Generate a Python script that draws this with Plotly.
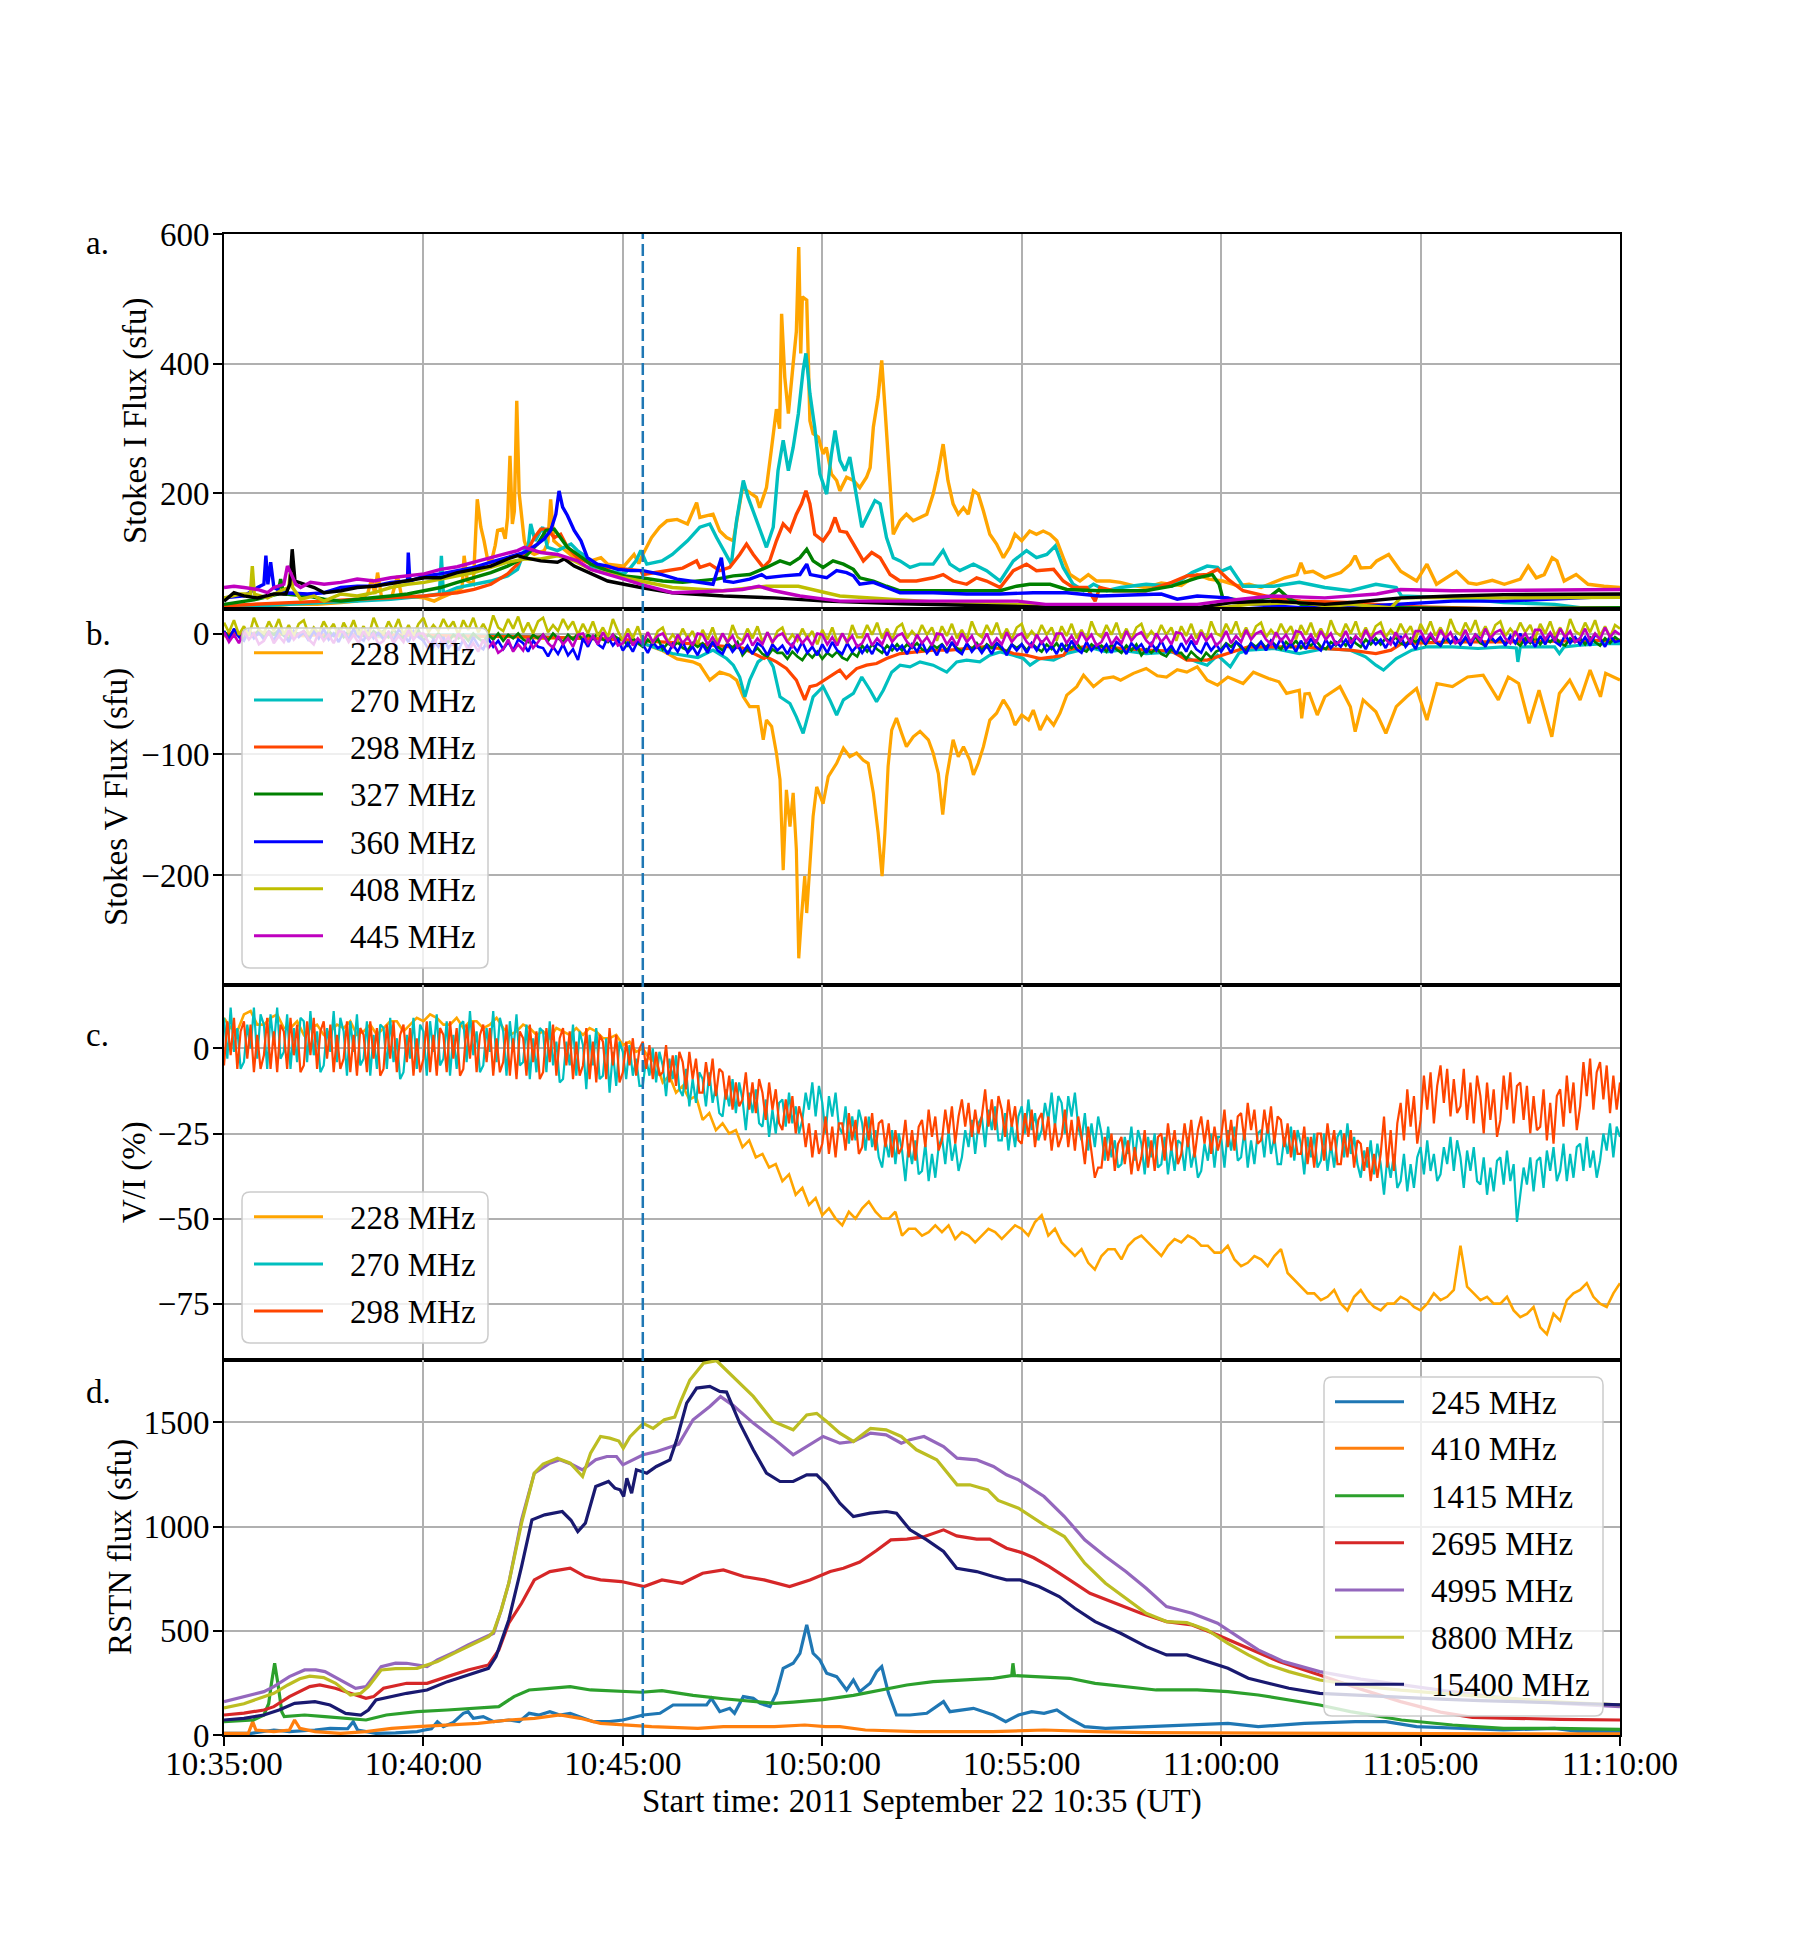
import numpy as np
import pandas as pd
import plotly.graph_objects as go
from plotly.subplots import make_subplots

START = pd.Timestamp("2011-09-22 10:35:00")
MARK = pd.Timestamp("2011-09-22 10:45:30")
END = pd.Timestamp("2011-09-22 11:10:00")

X_TICK_LABELS = ["10:35:00", "10:40:00", "10:45:00", "10:50:00", "10:55:00", "11:00:00", "11:05:00", "11:10:00"]
A_TICKS = [200, 400, 600]
B_TICKS = [-200, -100, 0]
C_TICKS = [-75, -50, -25, 0]
D_TICKS = [0, 500, 1000, 1500]

# ---------------- panel a : Stokes I flux (minute, sfu) ----------------
A228 = [(0,22),(0.4,27),(0.84,29),(1.25,27),(1.67,29),(2.34,29),(2.93,32),(3.34,34),(3.6,45),(3.7,68),(3.78,45),(3.85,78),(3.95,40),(4.2,39),(4.35,73),(4.45,42),(5.02,39),(5.27,34),(5.43,39),(5.85,50),(5.97,55),(6.02,104),(6.1,65),(6.25,60),(6.35,191),(6.44,148),(6.52,127),(6.6,101),(6.69,91),(6.8,120),(6.86,143),(6.98,145),(7.05,130),(7.11,163),(7.17,258),(7.23,153),(7.28,173),(7.34,343),(7.4,200),(7.44,179),(7.53,127),(7.61,112),(7.78,106),(8.03,112),(8.12,125),(8.19,191),(8.27,127),(8.36,122),(8.78,101),(9.2,96),(9.45,101),(9.62,91),(10.03,88),(10.28,106),(10.4,92),(10.5,106),(10.72,132),(10.92,148),(11.11,158),(11.36,160),(11.62,153),(11.85,186),(11.93,163),(12.26,168),(12.43,142),(12.6,132),(12.77,127),(13.0,209),(13.2,200),(13.35,194),(13.43,178),(13.6,209),(13.72,266),(13.85,330),(13.93,300),(13.98,477),(14.06,379),(14.15,323),(14.27,400),(14.35,450),(14.41,580),(14.46,416),(14.5,503),(14.61,498),(14.69,312),(14.77,292),(14.9,287),(15.02,261),(15.1,271),(15.23,230),(15.36,220),(15.44,204),(15.61,225),(15.78,220),(15.94,209),(16.11,225),(16.2,240),(16.28,302),(16.4,349),(16.49,405),(16.57,333),(16.65,251),(16.78,137),(16.95,158),(17.11,168),(17.28,158),(17.45,163),(17.62,168),(17.78,199),(17.91,235),(18.03,276),(18.15,220),(18.28,184),(18.41,168),(18.54,178),(18.66,168),(18.79,204),(18.91,199),(19.04,173),(19.2,137),(19.37,122),(19.54,101),(19.7,117),(19.83,137),(20.0,127),(20.2,142),(20.37,137),(20.54,142),(20.71,137),(20.88,127),(21.04,101),(21.21,75),(21.46,65),(21.67,75),(21.88,65),(22.21,65),(22.47,63),(22.8,58),(23.1,55),(23.5,62),(24.0,58),(24.4,75),(24.7,68),(25.04,65),(25.4,58),(25.7,60),(26.0,55),(26.3,62),(26.6,70),(26.9,75),(27.0,93),(27.1,78),(27.3,80),(27.6,70),(28.0,78),(28.24,91),(28.36,104),(28.5,85),(28.75,86),(28.9,96),(29.2,106),(29.5,80),(29.9,65),(30.16,91),(30.4,60),(30.9,80),(31.2,62),(31.4,60),(31.8,66),(32.1,60),(32.5,68),(32.7,88),(32.9,70),(33.1,75),(33.3,101),(33.42,96),(33.6,65),(33.9,75),(34.2,60),(34.6,57),(35,55)]
A270 = [(0,24),(0.84,27),(1.67,29),(2.51,32),(3.34,34),(4.18,37),(5.02,42),(5.4,45),(5.45,104),(5.5,46),(5.85,55),(6.27,60),(6.69,65),(7.11,73),(7.36,83),(7.53,112),(7.63,120),(7.69,153),(7.8,127),(7.99,148),(8.11,117),(8.36,112),(8.7,122),(8.86,112),(9.0,106),(9.2,88),(9.62,81),(10.03,76),(10.2,86),(10.33,96),(10.45,112),(10.6,91),(10.98,96),(11.24,106),(11.62,127),(11.93,148),(12.18,153),(12.35,132),(12.6,106),(12.72,91),(12.85,158),(13.02,220),(13.14,194),(13.27,173),(13.43,148),(13.6,117),(13.77,148),(13.89,235),(14.02,282),(14.15,235),(14.27,271),(14.4,323),(14.52,390),(14.59,416),(14.69,354),(14.81,302),(14.94,230),(15.11,199),(15.23,261),(15.32,297),(15.44,251),(15.57,235),(15.69,256),(15.82,209),(15.99,148),(16.15,168),(16.32,189),(16.45,184),(16.61,132),(16.78,101),(16.95,96),(17.2,86),(17.45,91),(17.78,91),(18.03,112),(18.2,91),(18.45,81),(18.79,91),(19.12,81),(19.46,65),(19.79,96),(20.12,112),(20.37,101),(20.63,106),(20.84,119),(21.04,86),(21.29,60),(21.55,50),(21.8,60),(22.13,50),(22.48,55),(23.12,60),(23.76,57),(24.27,78),(24.65,88),(24.91,86),(25.0,80),(25.23,86),(25.55,57),(26.32,57),(26.96,63),(27.6,55),(28.24,50),(28.88,60),(29.39,55),(29.52,42),(30.8,39),(32.08,32),(33.36,29),(34.0,24),(35,24)]
A298 = [(0,27),(0.84,29),(1.67,32),(2.51,34),(3.34,37),(4.18,39),(5.02,42),(5.85,47),(6.27,52),(6.69,60),(7.11,76),(7.36,91),(7.61,112),(7.78,132),(7.94,145),(8.11,145),(8.28,132),(8.44,137),(8.61,117),(8.86,101),(9.2,91),(9.62,86),(10.03,83),(10.45,81),(10.5,75),(11.0,80),(11.5,85),(11.85,96),(11.93,86),(12.18,91),(12.43,81),(12.68,86),(12.93,106),(13.1,122),(13.27,106),(13.52,86),(13.68,96),(13.85,127),(14.02,153),(14.19,142),(14.35,168),(14.48,184),(14.59,204),(14.69,184),(14.81,137),(15.02,127),(15.19,142),(15.32,163),(15.44,142),(15.61,140),(15.78,122),(16.03,96),(16.24,109),(16.45,101),(16.7,75),(16.95,65),(17.36,65),(17.78,70),(18.03,75),(18.28,65),(18.62,60),(18.87,70),(19.12,65),(19.46,55),(19.79,81),(20.12,91),(20.37,81),(20.8,83),(21.04,65),(21.29,55),(21.63,55),(21.84,34),(21.96,55),(22.3,50),(23.12,50),(23.76,63),(24.14,73),(24.65,75),(24.91,83),(25.17,68),(25.55,50),(26.32,39),(27.0,34),(28.24,32),(29.52,26),(30.8,24),(32.08,22),(35,24)]
A327 = [(0,29),(0.5,34),(0.84,37),(1.35,45),(1.42,68),(1.5,45),(2.09,42),(2.51,37),(2.93,34),(3.34,37),(3.76,39),(4.18,42),(4.6,45),(5.02,50),(5.43,55),(5.85,63),(6.27,70),(6.69,78),(7.11,88),(7.53,101),(7.86,122),(8.07,143),(8.28,145),(8.44,132),(8.61,117),(8.86,106),(9.2,91),(9.62,81),(10.03,73),(10.45,70),(11.0,65),(11.5,63),(11.93,65),(12.35,68),(12.77,73),(13.18,75),(13.6,86),(13.94,96),(14.19,91),(14.44,101),(14.61,114),(14.77,96),(15.02,86),(15.27,96),(15.53,91),(15.78,83),(15.94,70),(16.28,65),(16.61,57),(16.95,50),(19.46,50),(19.87,57),(20.2,60),(20.71,60),(21.13,52),(21.96,50),(23.1,50),(23.76,57),(24.4,70),(24.78,75),(24.95,60),(25.04,39),(25.68,34),(26.2,40),(26.45,52),(26.7,38),(27.0,29),(28.24,26),(29.52,24),(32.08,22),(35,24)]
A360 = [(0,39),(0.5,42),(0.84,55),(1.0,60),(1.05,104),(1.1,60),(1.17,94),(1.25,55),(1.5,47),(2.09,45),(2.51,47),(2.93,55),(3.34,57),(3.76,57),(4.18,63),(4.6,65),(4.62,109),(4.66,65),(5.02,73),(5.43,76),(5.85,81),(6.27,86),(6.69,94),(7.11,101),(7.53,109),(7.86,122),(8.03,130),(8.19,143),(8.32,168),(8.4,204),(8.49,179),(8.61,166),(8.78,143),(8.95,127),(9.11,101),(9.36,91),(9.62,88),(9.87,83),(10.2,81),(10.5,81),(10.98,75),(11.36,68),(11.88,63),(12.26,60),(12.47,101),(12.55,65),(12.77,63),(13.18,68),(13.48,75),(13.6,70),(14.02,73),(14.44,75),(14.61,91),(14.7,75),(15.11,70),(15.36,81),(15.61,78),(15.78,73),(15.94,60),(16.28,63),(16.61,55),(16.95,47),(17.78,47),(18.62,45),(19.46,45),(20.29,47),(21.13,47),(21.96,42),(23.5,45),(23.9,37),(24.4,42),(25.17,39),(25.68,29),(27.0,24),(28.24,25),(29.52,29),(30.8,34),(32.1,34),(33.36,38),(35,42)]
A408 = [(0,39),(0.42,45),(0.66,45),(0.71,88),(0.76,45),(1.09,39),(1.42,50),(1.62,55),(1.67,80),(1.72,55),(1.92,37),(2.26,42),(2.51,34),(2.93,45),(3.34,42),(3.76,47),(4.18,55),(4.6,60),(5.02,63),(5.43,68),(5.85,73),(6.27,78),(6.69,86),(7.11,94),(7.53,99),(7.94,99),(8.36,104),(8.78,96),(9.2,83),(9.62,76),(10.03,70),(10.45,65),(11.24,55),(12.5,50),(13.6,57),(14.4,57),(15.08,47),(15.44,42),(16.7,37),(18.0,32),(19.9,29),(21.8,24),(25.0,24),(25.7,29),(27.0,32),(27.7,26),(28.24,29),(29.26,24),(29.5,39),(30.8,40),(32.1,39),(35,40)]
A432 = [(0,34),(0.25,47),(0.5,42),(0.84,39),(1.25,45),(1.55,45),(1.65,60),(1.71,114),(1.78,65),(2.0,60),(2.26,55),(2.51,47),(2.93,50),(3.34,55),(3.76,57),(4.18,61),(4.6,65),(5.02,70),(5.43,70),(5.85,78),(6.27,83),(6.69,88),(7.11,99),(7.36,104),(7.53,101),(7.94,96),(8.36,94),(8.53,99),(8.78,88),(9.2,76),(9.62,65),(10.03,60),(10.45,55),(11.24,47),(12.52,42),(13.8,39),(15.08,34),(17.0,30),(20.0,26),(21.2,24),(24.4,24),(25.3,32),(26.3,34),(27.6,29),(28.24,32),(29.52,39),(30.8,42),(32.08,44),(35,45)]
A445 = [(0,55),(0.25,57),(0.5,55),(0.84,52),(1.09,47),(1.25,55),(1.5,60),(1.59,88),(1.67,78),(1.8,60),(1.92,55),(2.17,63),(2.51,60),(2.93,63),(3.34,68),(3.76,65),(4.18,70),(4.6,73),(5.02,76),(5.43,83),(5.85,87),(6.27,94),(6.69,101),(7.11,109),(7.36,112),(7.53,117),(7.94,109),(8.36,106),(8.61,101),(8.86,96),(9.2,83),(9.62,76),(10.03,68),(10.45,60),(11.24,47),(12.52,50),(13.0,52),(13.41,57),(13.8,50),(14.44,42),(15.08,37),(15.44,34),(19.9,34),(20.6,29),(24.4,29),(25.0,34),(26.3,42),(27.6,39),(28.9,45),(29.5,52),(30.8,50),(32.1,51),(35,52)]

# ---------------- panel b : Stokes V flux ----------------
B228 = [(0,-2),(1,1),(2,-2),(3,0),(4,-3),(5,-1),(6,-3),(7,-2),(8,-4),(9,-3),(10,-5),(10.5,-8),(10.98,-14),(11.36,-21),(11.75,-23.5),(11.93,-26),(12.18,-38.6),(12.43,-32),(12.68,-34.5),(12.85,-38.6),(13.02,-52.4),(13.18,-60.6),(13.39,-60.6),(13.52,-88),(13.6,-71.7),(13.73,-77),(13.85,-99),(13.94,-121),(14.02,-196),(14.1,-129.5),(14.19,-160),(14.27,-132),(14.35,-179),(14.41,-269),(14.48,-234),(14.56,-201),(14.61,-231.5),(14.69,-193),(14.77,-151.5),(14.86,-127),(15.02,-141),(15.15,-118.5),(15.36,-107.5),(15.53,-95),(15.69,-102),(15.86,-99),(16.03,-105),(16.15,-107.5),(16.28,-132),(16.4,-165),(16.5,-201),(16.57,-165),(16.65,-110),(16.74,-80),(16.86,-70),(16.99,-82.7),(17.11,-93.7),(17.28,-85.5),(17.45,-81),(17.66,-88),(17.78,-99),(17.91,-116),(18.02,-150),(18.12,-118.5),(18.28,-88),(18.41,-102),(18.54,-93.7),(18.7,-105),(18.79,-117),(18.91,-107.5),(19.04,-93.7),(19.2,-71.7),(19.37,-66),(19.54,-55),(19.7,-63.4),(19.83,-75.8),(20.0,-67.5),(20.17,-71.7),(20.29,-63.4),(20.46,-80),(20.63,-69),(20.8,-75.8),(20.96,-66),(21.13,-51),(21.38,-44),(21.55,-34.5),(21.8,-44),(22.05,-37.2),(22.3,-36),(22.48,-38.6),(22.8,-33),(23.12,-29),(23.4,-35),(23.63,-36),(23.9,-30),(24.14,-32),(24.4,-27.6),(24.65,-38.6),(24.91,-42.7),(25.17,-36),(25.55,-41.4),(25.81,-32),(26.19,-37.2),(26.45,-40),(26.64,-49.6),(26.96,-47),(27.02,-70.3),(27.1,-50),(27.21,-49.6),(27.41,-67.5),(27.6,-52.4),(27.98,-44),(28.24,-60.6),(28.36,-81.3),(28.56,-55),(28.88,-64.8),(29.13,-82.7),(29.39,-60.6),(29.65,-52.4),(29.9,-45.5),(30.16,-71.7),(30.41,-41.4),(30.8,-44),(31.18,-36),(31.57,-34.5),(31.95,-55),(32.2,-36),(32.46,-41.4),(32.72,-74.4),(32.97,-47),(33.29,-85.5),(33.48,-49.6),(33.74,-38.6),(34.0,-55),(34.25,-30.3),(34.51,-52.4),(34.64,-33),(35,-38.6)]
B270 = [(0,-1),(2,0),(4,-2),(6,-1),(8,-3),(10,-5),(10.5,-8),(11.24,-16.6),(11.88,-20),(12.26,-13.8),(12.6,-20.7),(12.77,-26.2),(12.93,-36),(13.06,-52.4),(13.18,-38.6),(13.39,-23.5),(13.6,-18),(13.77,-27.6),(13.94,-52.4),(14.19,-58),(14.35,-69),(14.52,-82.7),(14.61,-71.7),(14.77,-52.4),(15.02,-44),(15.19,-55),(15.36,-67.5),(15.53,-55),(15.78,-49.6),(15.99,-36),(16.2,-47),(16.36,-56.5),(16.53,-47),(16.74,-32),(16.95,-26.2),(17.2,-27.6),(17.45,-23.5),(17.78,-26.2),(18.12,-32),(18.37,-23.5),(18.62,-22),(18.95,-23.5),(19.2,-18),(19.46,-15.2),(19.79,-18),(20.04,-20.7),(20.21,-26.2),(20.46,-20.7),(20.8,-22),(21.13,-16.6),(21.46,-13.8),(21.8,-12.4),(22.13,-15.2),(22.47,-13.8),(23.12,-16.6),(23.76,-15.2),(24.4,-23.5),(24.65,-26.2),(24.91,-18),(25.23,-27.6),(25.45,-16),(25.68,-13.8),(26.32,-12.4),(26.96,-16.6),(27.6,-12.4),(28.24,-13.8),(28.62,-19.3),(28.88,-26.2),(29.07,-30.3),(29.39,-20.7),(29.78,-13.8),(30.16,-11),(30.8,-11),(31.44,-12.4),(32.08,-11),(32.4,-12),(32.44,-23.5),(32.5,-11),(33.36,-11),(33.48,-16.6),(33.6,-11),(34.0,-9.7),(34.64,-8.3),(35,-8.3)]
B298 = [(0,0),(2,-1),(4,-1),(6,-2),(8,-3),(10,-5),(11,-7),(12,-9),(13,-12),(13.54,-20.7),(13.6,-19.3),(13.85,-23.5),(14.1,-29),(14.35,-38.6),(14.56,-55),(14.69,-44),(14.86,-42.7),(15.1,-37.2),(15.36,-32),(15.44,-30.3),(15.6,-37),(15.86,-29),(16.11,-26.2),(16.36,-24.8),(16.61,-20.7),(16.95,-16.6),(17.36,-15.2),(17.78,-13.8),(18.2,-13.8),(18.62,-12.4),(19.04,-11),(19.46,-12.4),(19.79,-16.6),(20.12,-18),(20.46,-20.7),(20.8,-19.3),(21.05,-18),(21.13,-13.8),(21.55,-11),(21.96,-11),(22.47,-12.4),(23.12,-13.8),(23.76,-14.5),(24.14,-22),(24.65,-22),(25.17,-16.6),(25.68,-11),(26.96,-11),(27.73,-12.4),(28.24,-13.8),(28.88,-16.6),(29.26,-13.8),(29.52,-8.3),(30.8,-7),(32.08,-7),(35,-5.5)]
# 7.5-second samples, 8 per minute
B327 = [2,-3,3,-1,-4,2,-2,3, -3,2,-1,3,-2,-4,2,-1, 2,-3,3,-1,-4,2,-2,3, -3,2,-1,3,-2,-4,2,-1, 2,-3,3,-1,-4,2,-2,3,
        -6,-1,-4,0,-5,-7,-1,-4, -1,-6,0,-4,-7,-1,-5,0, -6,-1,-4,0,-5,-7,-1,-4, -1,-6,0,-4,-7,-1,-5,0, -6,-1,-4,0,-5,-7,-1,-4,
        -5,-10,-4,-8,-11,-5,-9,-4, -13,-8,-11,-7,-12,-14,-8,-11, -8,-13,-7,-11,-14,-8,-12,-7, -18,-13,-16,-12,-17,-19,-13,-16, -16,-21,-15,-19,-22,-16,-20,-15,
        -21,-16,-19,-15,-20,-22,-16,-19, -10,-15,-9,-13,-16,-10,-14,-9, -14,-9,-12,-8,-13,-15,-9,-12, -9,-14,-8,-12,-15,-9,-13,-8, -14,-9,-12,-8,-13,-15,-9,-12,
        -9,-14,-8,-12,-15,-9,-13,-8, -14,-9,-12,-8,-13,-15,-9,-12, -10,-15,-9,-13,-16,-10,-14,-9, -18,-13,-16,-12,-17,-19,-13,-16, -16,-21,-15,-19,-22,-16,-20,-15,
        -13,-8,-11,-7,-12,-14,-8,-11, -7,-12,-6,-10,-13,-7,-11,-6, -12,-7,-10,-6,-11,-13,-7,-10, -5,-10,-4,-8,-11,-5,-9,-4, -9,-4,-7,-3,-8,-10,-4,-7,
        -4,-9,-3,-7,-10,-4,-8,-3, -9,-4,-7,-3,-8,-10,-4,-7, -4,-9,-3,-7,-10,-4,-8,-3, -9,-4,-7,-3,-8,-10,-4,-7, -4,-9,-3,-7,-10,-4,-8,-3,
        -6]
B360 = [2,-5,4,-3,-6,3,-4,1, -5,1,-6,3,0,-7,2,-3, 1,-6,2,-4,4,-5,0,-7, 2,-5,4,-3,-6,3,-4,1, -5,1,-6,3,0,-7,2,-3,
        -6,-13,-5,-11,-3,-12,-7,-14, -5,-12,-3,-10,-13,-4,-11,-6, -13,-7,-14,-5,-8,-15,-6,-11, -12,-19,-11,-17,-9,-18,-13,-22, -4,-11,-2,-9,-12,-3,-10,-5,
        -14,-8,-15,-6,-9,-16,-7,-12, -10,-17,-9,-15,-7,-16,-11,-18, -9,-16,-7,-14,-17,-8,-15,-10, -16,-10,-17,-8,-11,-18,-9,-14, -10,-17,-9,-15,-7,-16,-11,-18,
        -9,-16,-7,-14,-17,-8,-15,-10, -16,-10,-17,-8,-11,-18,-9,-14, -10,-17,-9,-15,-7,-16,-11,-18, -9,-16,-7,-14,-17,-8,-15,-10, -16,-10,-17,-8,-11,-18,-9,-14,
        -9,-16,-8,-14,-6,-15,-10,-17, -8,-15,-6,-13,-16,-7,-14,-9, -15,-9,-16,-7,-10,-17,-8,-13, -9,-16,-8,-14,-6,-15,-10,-17, -8,-15,-6,-13,-16,-7,-14,-9,
        -15,-9,-16,-7,-10,-17,-8,-13, -7,-14,-6,-12,-4,-13,-8,-15, -6,-13,-4,-11,-14,-5,-12,-7, -11,-5,-12,-3,-6,-13,-4,-9, -5,-12,-4,-10,-2,-11,-6,-13,
        -2,-9,0,-7,-10,-1,-8,-3, -9,-3,-10,-1,-4,-11,-2,-7, -3,-10,-2,-8,0,-9,-4,-11, -2,-9,0,-7,-10,-1,-8,-3, -9,-3,-10,-1,-4,-11,-2,-7,
        -6]
B408 = [9,1,11,-1,6,-2,13,3, 0,10,2,12,-1,7,-2,8, 11,-1,5,0,10,2,8,-3, 9,1,11,-1,6,-2,13,3, 0,10,2,12,-1,7,-2,8,
        13,1,7,2,12,4,10,-1, 11,3,13,1,8,0,15,5, 2,12,4,14,1,9,0,10, 13,1,7,2,12,4,10,-1, 8,0,10,-2,5,-3,12,2,
        -6,4,-4,6,-7,1,-8,2, 5,-7,-1,-6,4,-4,2,-9, 3,-5,5,-7,0,-8,7,-3, -6,4,-4,6,-7,1,-8,2, 5,-7,-1,-6,4,-4,2,-9,
        3,-5,5,-7,0,-8,7,-3, -3,7,-1,9,-4,4,-5,5, 8,-4,2,-3,7,-1,5,-6, 6,-2,8,-4,3,-5,10,0, -3,7,-1,9,-4,4,-5,5,
        8,-4,2,-3,7,-1,5,-6, 6,-2,8,-4,3,-5,10,0, -3,7,-1,9,-4,4,-5,5, 8,-4,2,-3,7,-1,5,-6, 6,-2,8,-4,3,-5,10,0,
        -2,8,0,10,-3,5,-4,6, 9,-3,3,-2,8,0,6,-5, 7,-1,9,-3,4,-4,11,1, -2,8,0,10,-3,5,-4,6, 9,-3,3,-2,8,0,6,-5,
        8,0,10,-2,5,-3,12,2, -1,9,1,11,-2,6,-3,7, 10,-2,4,-1,9,1,7,-4, 8,0,10,-2,5,-3,12,2, -1,9,1,11,-2,6,-3,7,
        4]
B445 = [1,-7,-1,-8,2,-5,0,-9, -6,2,-8,-2,-7,3,-5,0, 2,-5,-9,1,-6,-1,-8,2, 1,-7,-1,-8,2,-5,0,-9, -6,2,-8,-2,-7,3,-5,0,
        0,-7,-11,-1,-8,-3,-10,0, -6,-14,-8,-15,-5,-12,-7,-16, -13,-5,-15,-9,-14,-4,-12,-7, -1,-8,-12,-2,-9,-4,-11,-1, 0,-8,-2,-9,1,-6,-1,-10,
        -8,0,-10,-4,-9,1,-7,-2, 0,-7,-11,-1,-8,-3,-10,0, -1,-9,-3,-10,0,-7,-2,-11, -8,0,-10,-4,-9,1,-7,-2, 0,-7,-11,-1,-8,-3,-10,0,
        -1,-9,-3,-10,0,-7,-2,-11, -8,0,-10,-4,-9,1,-7,-2, 0,-7,-11,-1,-8,-3,-10,0, -1,-9,-3,-10,0,-7,-2,-11, -8,0,-10,-4,-9,1,-7,-2,
        0,-7,-11,-1,-8,-3,-10,0, 0,-8,-2,-9,1,-6,-1,-10, -7,1,-9,-3,-8,2,-6,-1, 1,-6,-10,0,-7,-2,-9,1, 0,-8,-2,-9,1,-6,-1,-10,
        -6,2,-8,-2,-7,3,-5,0, 2,-5,-9,1,-6,-1,-8,2, 1,-7,-1,-8,2,-5,0,-9, -6,2,-8,-2,-7,3,-5,0, 2,-5,-9,1,-6,-1,-8,2,
        2,-6,0,-7,3,-4,1,-8, -5,3,-7,-1,-6,4,-4,1, 3,-4,-8,2,-5,0,-7,3, 3,-5,1,-6,4,-3,2,-7, -4,4,-6,0,-5,5,-3,2,
        -1]

# ---------------- panel c : V/I (%) ----------------
# 5-second samples, 12 per minute
C270 = [9,-3,12,-1,6,-6, -4,7,0,12,-3,10, 7,-6,10,1,12,-3, -1,10,-6,6,-4,9, 8,-4,11,-2,5,-7, -5,6,-1,11,-4,9,
        5,-8,8,-1,10,-5, -3,8,-8,4,-6,7, 6,-6,9,-4,3,-9, -7,4,-3,9,-6,7, 5,-8,8,-1,10,-5, -3,8,-8,4,-6,7,
        8,-4,11,-2,5,-7, -5,6,-1,11,-4,9, 5,-8,8,-1,10,-5, -4,7,-9,3,-7,6, 5,-7,8,-5,2,-10, -9,2,-5,7,-8,5,
        1,-12,4,-5,6,-9, -8,3,-13,-1,-11,2, -1,-9,1,-8,-3,-11, -11,-3,-8,0,-10,-1, -5,-14,-3,-9,-2,-12, -14,-6,-17,-9,-16,-7,
        -9,-17,-7,-16,-11,-19, -20,-12,-17,-9,-19,-10, -15,-24,-13,-19,-12,-22, -23,-15,-26,-18,-25,-16, -15,-23,-13,-22,-17,-25, -21,-13,-18,-10,-20,-11,
        -16,-25,-14,-20,-13,-23, -25,-17,-28,-20,-27,-18, -22,-30,-20,-29,-24,-32, -35,-27,-32,-24,-34,-25, -30,-39,-28,-34,-27,-37, -36,-28,-39,-31,-38,-29,
        -26,-34,-24,-33,-28,-36, -32,-24,-29,-21,-31,-22, -20,-29,-18,-24,-17,-27, -27,-19,-30,-22,-29,-20, -17,-25,-15,-24,-19,-27, -24,-16,-21,-13,-23,-14,
        -16,-25,-14,-20,-13,-23, -27,-19,-30,-22,-29,-20, -25,-33,-23,-32,-27,-35, -34,-26,-31,-23,-33,-24, -28,-37,-26,-32,-25,-35, -34,-26,-37,-29,-36,-27,
        -28,-36,-26,-35,-30,-38, -36,-28,-33,-25,-35,-26, -26,-35,-24,-30,-23,-33, -32,-24,-35,-27,-34,-25, -24,-32,-22,-31,-26,-34, -34,-26,-31,-23,-33,-24,
        -28,-37,-26,-32,-25,-35, -33,-25,-36,-28,-35,-26, -24,-32,-22,-31,-26,-34, -38,-30,-35,-27,-37,-28, -34,-43,-32,-38,-31,-41, -39,-31,-42,-34,-41,-32,
        -29,-37,-27,-36,-31,-39, -37,-29,-34,-26,-36,-27, -32,-41,-30,-36,-29,-39, -40,-32,-43,-35,-42,-33, -32,-40,-30,-39,-34,-51, -43,-35,-40,-32,-42,-33,
        -32,-41,-30,-36,-29,-39, -36,-28,-39,-31,-38,-29, -28,-36,-26,-35,-30,-38, -33,-25,-30,-22,-32,-23,
        -26]
C298 = [-5,8,-2,9,-6,5, 8,-3,7,-7,4,-6, -2,9,-6,5,-7,7, 5,-6,9,-2,7,-7, -5,8,-2,9,-6,5, 8,-3,7,-7,4,-6,
        -3,8,-7,4,-8,6, 4,-7,8,-3,6,-8, -6,7,-3,8,-7,4, 7,-4,6,-8,3,-7, -3,8,-7,4,-8,6, 4,-7,8,-3,6,-8,
        -6,7,-3,8,-7,4, 7,-4,6,-8,3,-7, -4,7,-8,3,-9,5, 3,-8,7,-4,5,-9, -7,6,-4,7,-8,3, 6,-5,5,-9,2,-8,
        -5,6,-9,2,-10,4, 2,-9,6,-5,4,-10, -7,2,-5,3,-8,0, 2,-6,1,-9,-1,-8, -7,1,-10,-2,-11,-1, -4,-12,-1,-9,-3,-13,
        -13,-4,-11,-3,-14,-6, -7,-15,-8,-18,-10,-17, -15,-7,-18,-10,-19,-9, -13,-21,-10,-18,-12,-22, -24,-15,-22,-14,-25,-17, -21,-29,-22,-32,-24,-31,
        -28,-20,-31,-23,-32,-22, -22,-30,-19,-27,-21,-31, -29,-20,-27,-19,-30,-22, -21,-29,-22,-32,-24,-31, -29,-21,-32,-24,-33,-23, -21,-29,-18,-26,-20,-30,
        -27,-18,-25,-17,-28,-20, -15,-23,-16,-26,-18,-25, -20,-12,-23,-15,-24,-14, -18,-26,-15,-23,-17,-27, -28,-19,-26,-18,-29,-21, -19,-27,-20,-30,-22,-29,
        -26,-18,-29,-21,-30,-20, -26,-34,-23,-31,-38,-35, -35,-26,-33,-25,-36,-28, -26,-34,-27,-37,-29,-36, -32,-24,-35,-27,-36,-26, -25,-33,-22,-30,-24,-34,
        -31,-22,-29,-21,-32,-24, -20,-28,-21,-31,-23,-30, -26,-18,-29,-21,-30,-20, -19,-27,-16,-24,-18,-28, -27,-18,-25,-17,-28,-20, -21,-29,-22,-32,-24,-31,
        -31,-23,-34,-26,-35,-25, -25,-33,-22,-30,-24,-34, -34,-25,-32,-24,-35,-27, -28,-36,-29,-39,-31,-38, -31,-20,-35,-24,-36,-22, -16,-27,-12,-23,-14,-28,
        -21,-8,-18,-7,-22,-11, -5,-16,-6,-20,-9,-19, -17,-6,-21,-10,-22,-8, -14,-25,-10,-21,-12,-26, -21,-8,-18,-7,-22,-11, -10,-21,-11,-25,-14,-24,
        -23,-12,-27,-16,-28,-14, -12,-23,-8,-19,-10,-24, -17,-4,-14,-3,-18,-7, -4,-15,-5,-19,-8,-18,
        -10]
# 10-second samples, 6 per minute
C228 = [9,6,5,10,11,7, 7,9,10,6,6,8, 4,6,7,4,5,7, 6,8,4,5,7,4, 6,8,8,5,7,9, 8,10,9,7,7,9, 6,8,8,6,7,9,
        6,4,5,7,6,4, 5,3,6,5,4,6, 4,6,5,3,3,4, 1,2,-1,0,-3,-4, -10,-8,-13,-11,-15,-14, -21,-19,-24,-22,-25,-24, -29,-27,-32,-31,-35,-34,
        -39,-37,-43,-41,-46,-44, -49,-47,-50,-52,-48,-50, -47,-45,-48,-50,-50,-48, -55,-53,-53,-55,-54,-52, -54,-52,-56,-54,-55,-57, -55,-53,-54,-56,-54,-52,
        -53,-55,-51,-49,-55,-53, -57,-59,-61,-59,-63,-65, -61,-59,-59,-62,-58,-56, -55,-57,-59,-61,-58,-56, -57,-55,-56,-58,-58,-60, -60,-58,-62,-64,-63,-61,
        -62,-64,-61,-59,-66,-68, -70,-72,-72,-74,-73,-71, -75,-77,-73,-71,-74,-76, -77,-75,-75,-73,-74,-76, -77,-75,-72,-74,-73,-71, -58,-70,-72,-74,-73,-75,
        -75,-73,-77,-79,-78,-76, -82,-84,-78,-80,-74,-72, -71,-69,-73,-75,-76,-72,
        -69]

# ---------------- panel d : RSTN flux ----------------
D245 = [(0,8),(0.68,8),(1.25,24),(1.64,16),(2.28,24),(2.66,32),(3.1,30),(3.24,64),(3.35,24),(3.81,8),(4.3,10),(4.84,16),(5.03,24),(5.2,30),(5.35,64),(5.5,40),(5.75,60),(6.0,104),(6.12,112),(6.25,80),(6.5,88),(6.76,64),(7.14,72),(7.4,64),(7.65,104),(7.9,96),(8.17,112),(8.42,96),(8.68,104),(8.93,88),(9.26,64),(9.67,64),(10.0,72),(10.51,96),(10.93,104),(11.26,144),(11.76,144),(12.1,144),(12.22,176),(12.43,112),(12.68,128),(12.8,104),(13.02,184),(13.27,176),(13.44,152),(13.69,136),(13.85,200),(14.02,320),(14.27,344),(14.44,392),(14.61,528),(14.77,392),(14.94,360),(15.11,296),(15.36,280),(15.61,216),(15.78,264),(15.94,208),(16.2,248),(16.36,304),(16.49,328),(16.66,200),(16.86,96),(17.2,96),(17.62,104),(18.04,160),(18.2,112),(18.79,128),(19.29,96),(19.6,64),(19.92,96),(20.25,112),(20.56,104),(20.88,120),(21.2,80),(21.58,40),(22.1,32),(23.12,40),(24.4,48),(25.17,56),(25.93,40),(27.09,56),(28.36,64),(29.13,64),(29.9,40),(30.8,32),(32.08,24),(33.36,32),(34.0,16),(35,16)]
D410 = [(0,8),(0.61,8),(0.72,64),(0.8,24),(1.25,16),(1.64,24),(1.77,72),(1.9,32),(2.28,16),(2.92,8),(3.56,16),(4.2,32),(4.84,40),(5.6,48),(6.37,56),(7.14,72),(7.78,80),(8.42,96),(8.93,80),(9.44,56),(9.96,48),(10.72,40),(11.88,32),(12.52,40),(13.8,40),(14.56,48),(15.08,40),(15.44,40),(16.08,24),(17.36,16),(19.28,16),(20.56,24),(21.84,16),(23.12,11),(28.24,8),(35,5)]
D1415 = [(0,64),(0.74,72),(1.0,96),(1.12,150),(1.19,248),(1.27,344),(1.35,248),(1.45,110),(1.51,88),(2.02,96),(2.53,88),(3.05,80),(3.56,72),(4.07,96),(4.84,112),(5.6,120),(6.37,128),(6.89,136),(7.27,184),(7.65,216),(8.17,224),(8.68,232),(9.19,216),(9.7,212),(10.47,205),(10.98,213),(11.76,190),(12.52,174),(13.28,160),(13.8,152),(14.27,158),(15.02,170),(15.78,190),(16.45,216),(17.12,240),(17.78,256),(18.62,264),(19.29,272),(19.75,285),(19.78,344),(19.82,285),(20.56,280),(21.2,272),(21.84,248),(22.61,232),(23.37,216),(24.4,216),(25.17,208),(25.93,192),(26.7,168),(27.47,144),(28.24,112),(29.52,72),(30.8,48),(32.08,32),(33.36,32),(35,27)]
D2695 = [(0,96),(0.5,105),(1.0,120),(1.25,136),(1.64,184),(2.15,232),(2.4,240),(2.79,224),(3.17,200),(3.56,176),(3.75,184),(4.0,224),(4.58,248),(5.09,248),(5.6,280),(6.12,312),(6.63,336),(6.89,408),(7.14,536),(7.46,632),(7.78,744),(8.17,784),(8.68,800),(9.06,760),(9.44,744),(9.96,736),(10.53,712),(10.98,744),(11.49,728),(12.0,776),(12.52,792),(13.03,760),(13.54,744),(14.18,712),(14.69,744),(15.2,784),(15.53,800),(15.94,830),(16.36,885),(16.72,936),(17.12,940),(17.53,950),(18.04,984),(18.37,955),(18.87,940),(19.2,940),(19.62,896),(20.0,875),(20.3,850),(20.69,808),(21.2,744),(21.71,680),(22.35,632),(22.99,584),(23.63,544),(24.27,528),(24.91,480),(25.68,416),(26.45,352),(27.47,288),(28.5,220),(29.5,160),(30.5,110),(31.3,85),(32.5,78),(33.5,75),(35,72)]
D4995 = [(0,160),(0.5,185),(1.0,208),(1.25,232),(1.64,280),(2.02,312),(2.3,312),(2.53,304),(3.05,248),(3.3,224),(3.56,232),(3.94,328),(4.3,345),(4.58,344),(5.09,328),(5.35,360),(5.8,400),(6.12,432),(6.76,488),(6.95,600),(7.14,728),(7.46,1032),(7.78,1256),(8.17,1304),(8.42,1320),(8.7,1300),(8.99,1272),(9.32,1320),(9.6,1336),(9.84,1336),(10.0,1296),(10.51,1344),(10.85,1360),(11.24,1384),(11.4,1395),(11.76,1512),(12.18,1576),(12.45,1623),(12.77,1580),(13.27,1496),(13.77,1424),(14.27,1344),(14.77,1400),(15.02,1432),(15.44,1400),(15.78,1408),(16.21,1448),(16.6,1440),(16.98,1400),(17.2,1416),(17.55,1432),(18.04,1384),(18.38,1328),(18.87,1320),(19.29,1288),(19.62,1248),(19.92,1224),(20.56,1144),(21.07,1048),(21.58,936),(22.1,856),(22.61,784),(23.12,704),(23.63,616),(24.27,584),(24.91,536),(25.42,472),(25.93,408),(26.57,352),(27.47,304),(28.5,268),(29.5,240),(30.5,215),(31.5,192),(32.5,170),(33.5,152),(34.5,140),(35,136)]
D8800 = [(0,130),(0.5,150),(1.0,184),(1.25,200),(1.6,240),(1.9,270),(2.15,282),(2.5,275),(2.8,248),(3.17,192),(3.43,200),(3.62,232),(3.94,312),(4.3,318),(4.84,320),(5.35,352),(5.8,395),(6.12,424),(6.63,472),(6.76,496),(6.95,600),(7.14,728),(7.46,1016),(7.78,1256),(8.0,1300),(8.36,1328),(8.68,1304),(8.99,1240),(9.19,1352),(9.44,1432),(9.67,1424),(9.9,1410),(10.01,1376),(10.18,1431),(10.51,1495),(10.76,1471),(11.04,1512),(11.3,1525),(11.45,1600),(11.68,1703),(12.02,1783),(12.35,1795),(12.77,1719),(13.27,1624),(13.77,1504),(14.27,1464),(14.61,1535),(14.86,1543),(15.11,1504),(15.44,1448),(15.78,1408),(16.21,1471),(16.6,1464),(16.98,1432),(17.36,1368),(17.87,1320),(18.38,1200),(18.7,1200),(19.15,1176),(19.41,1125),(19.92,1088),(20.56,1008),(21.07,952),(21.58,824),(22.1,728),(22.61,656),(23.12,584),(23.63,544),(24.14,539),(24.65,504),(25.17,440),(25.68,384),(26.19,336),(26.7,304),(27.47,264),(28.5,235),(29.5,215),(30.5,200),(31.5,185),(32.5,170),(33.5,158),(34.5,148),(35,145)]
D15400 = [(0,72),(0.5,80),(1.0,96),(1.38,120),(1.77,152),(2.28,160),(2.66,144),(3.05,104),(3.43,96),(3.62,120),(3.81,168),(4.58,200),(5.09,216),(5.6,256),(6.12,288),(6.63,320),(6.82,376),(7.14,552),(7.46,808),(7.72,1032),(8.04,1056),(8.48,1072),(8.7,1030),(8.87,976),(9.06,1016),(9.32,1192),(9.64,1216),(9.8,1184),(9.93,1176),(10.02,1144),(10.1,1232),(10.22,1160),(10.34,1272),(10.6,1256),(10.84,1288),(11.18,1320),(11.35,1416),(11.6,1592),(11.85,1664),(12.18,1672),(12.43,1648),(12.6,1645),(12.93,1496),(13.27,1368),(13.6,1256),(13.94,1216),(14.27,1216),(14.61,1248),(14.86,1248),(15.11,1200),(15.44,1112),(15.78,1048),(16.2,1064),(16.61,1072),(16.86,1064),(17.2,984),(17.62,936),(18.04,880),(18.37,800),(18.87,784),(19.29,760),(19.62,744),(19.96,744),(20.43,712),(20.94,664),(21.33,608),(21.84,544),(22.48,488),(23.12,424),(23.63,384),(24.14,384),(24.65,352),(25.17,320),(25.68,272),(26.19,248),(26.7,224),(27.47,200),(28.5,190),(29.5,180),(30.5,172),(31.5,165),(32.5,160),(33.5,152),(34.5,147),(35,145)]

# ---------------- helpers ----------------
def at_minutes(mins):
    return START + pd.to_timedelta(np.asarray(mins, dtype=float), unit="min")

def split(pairs):
    t, v = zip(*pairs)
    return at_minutes(t), list(v)

def grid(values, step_s):
    mins = np.arange(len(values)) * step_s / 60.0
    return at_minutes(mins), values

for name, vals, n in [("B327", B327, 281), ("B360", B360, 281), ("B408", B408, 281), ("B445", B445, 281),
                      ("C270", C270, 421), ("C298", C298, 421), ("C228", C228, 211)]:
    if len(vals) != n:
        raise ValueError(f"{name}: {len(vals)} values, expected {n}")

FONT = "Liberation Serif, Times New Roman, serif"
FS = 33

fig = make_subplots(rows=4, cols=1, shared_xaxes=True, vertical_spacing=0)

COL = {"228": "#ffa500", "270": "#00bfbf", "298": "#ff4500", "327": "#008000",
       "360": "#0000ff", "408": "#bfbf00", "445": "#bf00bf", "432": "#000000"}

for key, pairs in [("228", A228), ("270", A270), ("298", A298), ("327", A327),
                   ("360", A360), ("408", A408), ("432", A432), ("445", A445)]:
    x, y = split(pairs)
    fig.add_trace(go.Scatter(x=x, y=y, mode="lines", line=dict(color=COL[key], width=3.4),
                             showlegend=False, name=key + " MHz"), row=1, col=1)

b_series = [("228", split(B228), 3.2), ("270", split(B270), 3.2), ("298", split(B298), 3.2),
            ("327", grid(B327, 7.5), 2.6), ("360", grid(B360, 7.5), 2.6),
            ("408", grid(B408, 7.5), 2.6), ("445", grid(B445, 7.5), 2.6)]
for key, (x, y), w in b_series:
    fig.add_trace(go.Scatter(x=x, y=y, mode="lines", line=dict(color=COL[key], width=w),
                             showlegend=False, name=key + " MHz"), row=2, col=1)

c_series = [("228", grid(C228, 10), 2.6), ("270", grid(C270, 5), 2.2), ("298", grid(C298, 5), 2.2)]
for key, (x, y), w in c_series:
    fig.add_trace(go.Scatter(x=x, y=y, mode="lines", line=dict(color=COL[key], width=w),
                             showlegend=False, name=key + " MHz"), row=3, col=1)

DCOL = {"245": "#1f77b4", "410": "#ff7f0e", "1415": "#2ca02c", "2695": "#d62728",
        "4995": "#9467bd", "8800": "#bcbd22", "15400": "#191970"}
for key, pairs in [("245", D245), ("410", D410), ("1415", D1415), ("2695", D2695),
                   ("4995", D4995), ("8800", D8800), ("15400", D15400)]:
    x, y = split(pairs)
    fig.add_trace(go.Scatter(x=x, y=y, mode="lines", line=dict(color=DCOL[key], width=3.2),
                             showlegend=False, name=key + " MHz"), row=4, col=1)

# ---------------- axes ----------------
tickvals = [START + pd.Timedelta(minutes=5 * i) for i in range(len(X_TICK_LABELS))]
for r in range(1, 5):
    fig.update_xaxes(row=r, col=1, type="date", range=[START, END], tickvals=tickvals,
                     ticktext=X_TICK_LABELS, showgrid=True, gridcolor="#b0b0b0", gridwidth=1.6,
                     showline=True, mirror=True, linecolor="black", linewidth=2, zeroline=False,
                     showticklabels=(r == 4), ticks="outside" if r == 4 else "", ticklen=9,
                     tickwidth=2, tickcolor="black", ticklabelstandoff=-11,
                     tickfont=dict(family=FONT, size=FS, color="black"))

yconf = [(1, [21.5, 600], A_TICKS), (2, [-290.7, 20.1], B_TICKS),
         (3, [-91.5, 18.8], C_TICKS), (4, [0, 1800], D_TICKS)]
for r, rng, tv in yconf:
    fig.update_yaxes(row=r, col=1, range=rng, tickvals=tv, showgrid=True, gridcolor="#b0b0b0",
                     gridwidth=1.6, showline=True, mirror=True, linecolor="black", linewidth=2,
                     zeroline=False, ticks="outside", ticklen=9, tickwidth=2, tickcolor="black",
                     ticklabelstandoff=-3,
                     tickfont=dict(family=FONT, size=FS, color="black"))

# ---------------- pixel helpers for paper placement ----------------
L, R, T, B = 224, 1620, 234, 1735
def px(x):
    return (x - L) / (R - L)
def py(y):
    return (B - y) / (B - T)

shapes = []
annotations = []

shapes.append(dict(type="line", xref="x", yref="paper", x0=str(MARK), x1=str(MARK), y0=0, y1=1,
                   line=dict(color="#1f77b4", width=2.5, dash="12px,5px"), layer="above"))

def legend(x0, y0, x1, y1, entries, sx0, sx1, tx, width):
    rx, ry = 8 / (R - L), 8 / (B - T)
    X0, X1, Y0, Y1 = px(x0), px(x1), py(y0), py(y1)
    path = (f"M{X0+rx},{Y0} L{X1-rx},{Y0} Q{X1},{Y0} {X1},{Y0-ry} L{X1},{Y1+ry} "
            f"Q{X1},{Y1} {X1-rx},{Y1} L{X0+rx},{Y1} Q{X0},{Y1} {X0},{Y1+ry} "
            f"L{X0},{Y0-ry} Q{X0},{Y0} {X0+rx},{Y0} Z")
    shapes.append(dict(type="path", xref="paper", yref="paper", path=path,
                       fillcolor="rgba(255,255,255,0.8)", line=dict(color="#cccccc", width=1.5),
                       layer="above"))
    for label, color, yy in entries:
        shapes.append(dict(type="line", xref="paper", yref="paper", x0=px(sx0), x1=px(sx1),
                           y0=py(yy), y1=py(yy), line=dict(color=color, width=width), layer="above"))
        annotations.append(dict(xref="paper", yref="paper", x=px(tx), y=py(yy + 1), text=label,
                                showarrow=False, xanchor="left", yanchor="middle",
                                font=dict(family=FONT, size=FS, color="black")))

B_LEG = ["228 MHz", "270 MHz", "298 MHz", "327 MHz", "360 MHz", "408 MHz", "445 MHz"]
B_LEG_COL = [COL["228"], COL["270"], COL["298"], COL["327"], COL["360"], COL["408"], COL["445"]]
B_LEG_Y = [652.7, 700, 747, 794, 841.7, 888.7, 935.7]
legend(242, 628, 488, 968, list(zip(B_LEG, B_LEG_COL, B_LEG_Y)), 254, 323, 348, 3)

C_LEG = ["228 MHz", "270 MHz", "298 MHz"]
legend(242, 1192, 488, 1343, list(zip(C_LEG, [COL["228"], COL["270"], COL["298"]], [1216.7, 1264, 1311])),
       254, 323, 348, 3)

D_LEG = ["245 MHz", "410 MHz", "1415 MHz", "2695 MHz", "4995 MHz", "8800 MHz", "15400 MHz"]
D_LEG_COL = [DCOL[k] for k in ["245", "410", "1415", "2695", "4995", "8800", "15400"]]
D_LEG_Y = [1401.7, 1448.3, 1495.7, 1542.7, 1590, 1637.3, 1684.3]
legend(1324, 1377, 1603, 1716, list(zip(D_LEG, D_LEG_COL, D_LEG_Y)), 1335, 1404, 1429, 3)

for txt, yy in [("a.", 243), ("b.", 634), ("c.", 1035), ("d.", 1392)]:
    annotations.append(dict(xref="paper", yref="paper", x=px(84), y=py(yy), text=txt, showarrow=False,
                            xanchor="left", yanchor="middle", font=dict(family=FONT, size=FS, color="black")))

for txt, xx, yy in [("Stokes I Flux (sfu)", 135, 421), ("Stokes V Flux (sfu)", 116, 797),
                    ("V/I (%)", 134, 1172), ("RSTN flux (sfu)", 120, 1547)]:
    annotations.append(dict(xref="paper", yref="paper", x=px(xx), y=py(yy), text=txt, showarrow=False,
                            textangle=-90, xanchor="center", yanchor="middle",
                            font=dict(family=FONT, size=FS, color="black")))

annotations.append(dict(xref="paper", yref="paper", x=px(922), y=py(1801),
                        text="Start time: 2011 September 22 10:35 (UT)", showarrow=False,
                        xanchor="center", yanchor="middle", font=dict(family=FONT, size=FS, color="black")))

fig.update_layout(width=1800, height=1950, template="none", paper_bgcolor="white", plot_bgcolor="white",
                  margin=dict(l=224, r=180, t=234, b=215), showlegend=False,
                  shapes=shapes, annotations=annotations,
                  font=dict(family=FONT, size=FS, color="black"))

fig.write_html("out.html")
